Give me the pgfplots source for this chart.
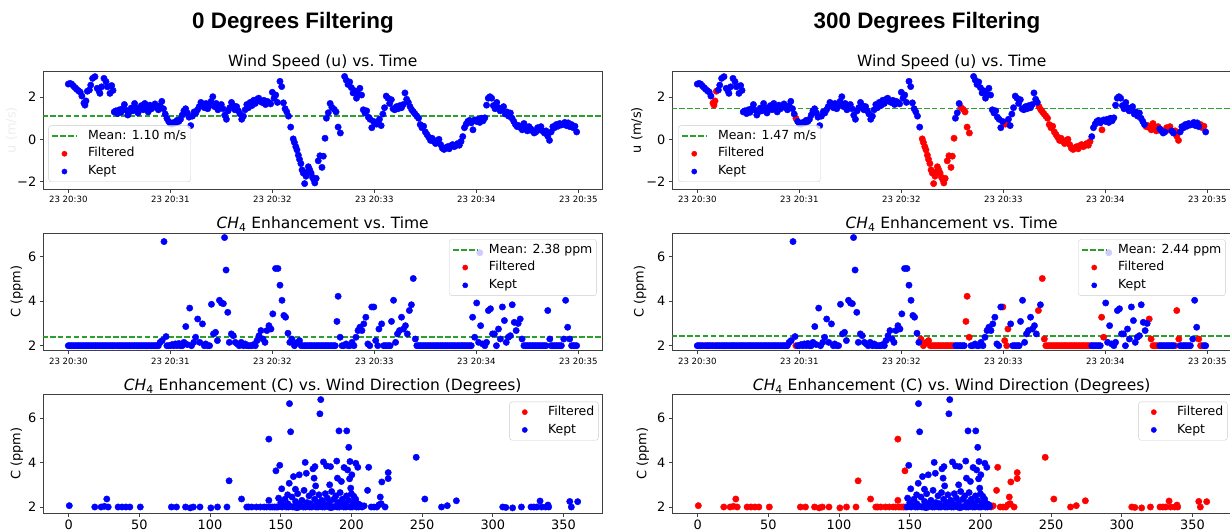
\documentclass[border=0pt]{standalone}
\usepackage{fontspec}
\setmainfont{DejaVu Sans}
\newfontfamily\supfont{Liberation Sans}
\usepackage{pgfplots}
\usepackage{pgfplotstable}
\pgfplotsset{compat=1.18}
\definecolor{meanc}{HTML}{2CA02C}

% wind speed u vs time (s after 20:30:00)
\pgfplotstableread[row sep=\\]{t v\\
0 2.62\\ 1 2.65\\ 2 2.62\\ 3 2.53\\ 4 2.45\\ 5 2.37\\ 6 2.30\\ 7 2.24\\ 8 2.05\\ 12.4 2.34\\ 13.2 2.57\\ 14.3 2.89\\ 15.7 2.97\\ 17 2.42\\ 18 2.30\\ 18.6 2.18\\ 19.6 2.49\\ 21 2.89\\ 22.2 2.73\\ 23 2.49\\ 24.5 2.18\\ 25.5 2.55\\ 26.3 2.32\\
27 1.30\\ 28 1.35\\ 29 1.22\\ 30 1.40\\ 31 1.28\\ 32 1.45\\ 33 1.65\\ 34 1.38\\ 35 1.15\\ 36 1.30\\ 37 1.48\\ 38 1.35\\ 39 1.70\\ 40 1.45\\ 41 1.25\\ 42 1.50\\ 43 1.60\\ 44 1.40\\ 45 1.70\\ 46 1.55\\ 47 1.30\\ 48 1.62\\ 49 1.45\\ 50 1.55\\ 51 1.68\\ 52 1.50\\ 53 1.40\\ 54 1.60\\ 55 1.80\\ 56 1.45\\ 57 1.20\\
59 0.85\\ 60 0.75\\ 61 0.72\\ 62 0.80\\ 63 0.78\\ 64 0.90\\ 65 0.85\\ 66 0.95\\ 67 1.15\\ 68 1.35\\ 69 1.45\\ 70 1.25\\ 71 1.05\\ 72 0.65\\ 73 1.10\\ 74 1.30\\ 75 1.25\\ 76 1.40\\ 77 1.55\\ 78 1.75\\ 79 1.60\\ 80 1.50\\ 81 1.70\\ 82 1.45\\ 83 1.60\\ 84 1.80\\ 85 2.02\\ 86 1.55\\ 87 1.70\\ 88 1.40\\ 89 1.50\\ 90 1.65\\ 91 1.45\\ 92 1.15\\ 93 0.95\\ 94 1.35\\ 95 1.50\\ 96 1.75\\ 97 1.60\\ 98 1.40\\ 99 1.55\\ 100 1.35\\
101 1.20\\ 102 0.95\\ 103 1.10\\ 104 1.40\\ 105 1.65\\ 106 1.50\\ 107 1.75\\ 108 1.60\\ 109 1.85\\ 110 1.70\\ 111 1.90\\ 112 1.95\\ 113 1.80\\ 114 1.75\\ 115 1.85\\ 116 1.65\\ 117 1.80\\ 118 1.75\\ 119 1.68\\ 120 2.23\\ 121 1.95\\ 122 2.10\\ 123 1.75\\ 124.5 2.75\\ 125.5 2.50\\ 126.5 1.73\\ 127.5 1.45\\ 128.5 1.30\\ 129.5 1.10\\ 130.8 0.58\\
151.8 1.00\\ 152.9 1.26\\ 154 1.70\\ 162.5 2.98\\ 163.5 2.80\\ 164.5 2.60\\ 165.5 2.72\\ 166.5 2.45\\ 167.5 2.20\\ 168.5 2.30\\ 169.5 1.95\\ 170.5 2.15\\ 171.5 2.42\\ 172.5 2.10\\ 173.5 1.40\\ 174.5 1.25\\ 175.5 1.35\\ 176.5 1.05\\ 177.5 0.95\\ 178.5 0.55\\ 179.5 0.85\\
183 0.95\\ 184 0.65\\ 185 1.20\\ 186 1.50\\ 187 2.05\\ 188 1.95\\ 189 1.70\\ 190 1.88\\ 191 1.45\\ 192 1.40\\ 193 1.55\\ 194 1.45\\ 195 1.60\\ 196 1.50\\ 197 1.65\\ 198 2.20\\ 199 1.90\\ 200 1.75\\
232 0.13\\ 233 0.55\\ 234 0.72\\ 235 0.85\\ 236 0.90\\ 237 0.78\\ 239 0.92\\ 240 0.85\\ 241 0.95\\ 242 0.80\\ 243 1.00\\ 244 0.88\\ 245 1.02\\ 246 1.62\\ 247 1.95\\ 248 2.02\\ 249 1.95\\ 250 1.60\\ 251 1.45\\ 252 1.75\\ 253 1.50\\ 254 1.35\\ 255 1.40\\ 256 1.55\\ 257 1.20\\ 258 1.30\\ 259 1.10\\ 260 1.25\\ 261 1.00\\ 262 0.85\\ 263 0.70\\
272 0.50\\ 273 0.40\\ 274 0.30\\ 275 0.35\\ 279 0.40\\ 280 0.30\\ 284 0.35\\ 285 0.60\\ 286 0.55\\ 287 0.70\\ 288 0.62\\ 289 0.75\\ 290 0.68\\ 291 0.72\\ 292 0.80\\ 293 0.65\\ 294 0.78\\ 295 0.60\\ 299 0.35\\
}\uKept
\pgfplotstableread[row sep=\\]{t v\\
9.2 1.72\\ 9.8 1.62\\ 10.4 1.82\\ 11.2 2.28\\ 58 1.00\\
132.3 0.02\\ 133 -0.15\\ 133.8 -0.35\\ 134.5 -0.50\\ 135.3 -0.75\\ 136 -0.95\\ 136.8 -1.15\\ 137.5 -1.45\\ 138.2 -1.60\\ 139 -2.10\\ 139.8 -1.75\\ 140.5 -1.55\\ 141.2 -1.30\\ 142 -1.45\\ 142.8 -1.60\\ 143.6 -1.80\\ 144.3 -1.90\\ 145 -2.07\\ 145.8 -1.85\\ 147 -1.02\\ 148 -0.78\\ 149.2 -1.33\\ 150 -0.80\\ 151 0.05\\
155 1.52\\ 156.4 1.42\\ 157.5 1.30\\ 158.7 0.58\\ 160 0.30\\ 180.5 0.78\\ 181.3 0.72\\ 182 0.80\\
201 1.55\\ 202 1.40\\ 203 1.30\\ 204 1.20\\ 205 1.10\\ 206 1.00\\ 207 0.70\\ 208 0.55\\ 209 0.62\\ 210 0.35\\ 211 0.22\\ 212 0.10\\ 213 -0.05\\ 214 0.05\\ 215 -0.10\\ 216 -0.20\\ 217 -0.05\\ 218 0.00\\ 219 -0.25\\ 220 -0.42\\ 221 -0.48\\ 222 -0.40\\ 223 -0.35\\ 224 -0.45\\ 225 -0.30\\ 226 -0.25\\ 227 -0.35\\ 228 -0.30\\ 229 -0.20\\ 230 -0.28\\ 231 -0.10\\
238 0.45\\ 264 0.60\\ 265 0.65\\ 266 0.55\\ 267 0.45\\ 268 0.75\\ 269 0.50\\ 270 0.40\\ 271 0.60\\ 276 0.55\\ 277 0.45\\ 278 0.60\\ 281 0.40\\ 282 0.15\\ 283 -0.05\\ 296 0.70\\ 297 0.55\\ 298 0.62\\
}\uFilt

% CH4 enhancement vs time
\pgfplotstableread[row sep=\\]{t v\\
0 2\\ 1 2\\ 2 2\\ 3 2\\ 5 2\\ 6 2\\ 7 2\\ 8 2\\ 9 2\\ 11 2\\ 12 2\\ 13 2\\ 14 2\\ 15 2\\ 16 2\\ 17 2\\ 18 2\\ 19 2\\ 20 2\\ 21 2\\ 22 2\\ 23 2\\ 24 2\\ 25 2\\ 26 2\\ 27 2\\ 28 2\\ 29 2\\ 30 2\\ 31 2\\ 32 2\\ 33 2\\ 34 2\\ 35 2\\ 36 2\\ 37 2\\ 38 2\\ 39 2\\ 40 2\\ 41 2\\ 42 2\\ 43 2\\ 44 2\\ 45 2\\ 46 2\\ 47 2\\ 48 2\\ 49 2\\ 50 2\\ 51 2\\ 52 2\\ 53 2\\
54 2.15\\ 55.2 2.23\\ 56.3 6.68\\ 57.5 2.41\\ 59 2\\ 60 2\\ 61 2.05\\ 62 2\\ 63 2.08\\ 64 2\\ 65 2.1\\ 66 2\\ 67 2\\ 68 2.15\\ 69.1 2.86\\ 70 2.05\\ 71.4 3.69\\ 72.5 2\\ 73.8 2.15\\ 74.9 2.38\\ 76.1 3.2\\ 77.3 2.15\\ 78.9 2.98\\ 80 2\\ 80.8 2.08\\ 82 2\\ 83.1 2\\ 84.2 3.86\\ 85.4 2.53\\ 86.6 2.6\\ 87.7 2.23\\ 88.9 4.04\\ 90.1 3.92\\ 91.2 3.89\\ 91.9 6.86\\ 92.8 5.4\\ 93.8 3.5\\ 94.7 2.15\\ 95.9 2.53\\ 97 2.45\\ 98.2 2.15\\ 99.4 2.08\\ 100.5 2\\
101.7 2.15\\ 103 2\\ 104 2.08\\ 105 2\\ 106 2\\ 107 2\\ 108 2\\ 109 2.05\\ 110 2\\ 111 2.23\\ 112.2 2.45\\ 113.3 2.68\\ 114.5 2.3\\ 115.7 2.15\\ 116.8 2.68\\ 118 2.9\\ 119.2 2.75\\ 120.3 3.43\\ 121.9 5.47\\ 123.3 5.47\\ 124.5 4.72\\ 125.7 4.04\\ 126.8 3.36\\ 127.8 3.28\\ 129.2 2.56\\ 130.3 2.15\\
152 2\\ 153 2\\ 154 2\\ 155 2\\ 156 2\\ 157 2\\ 161 2\\ 162 2\\ 163.4 2.08\\ 164.5 2\\ 165.5 2\\ 166.9 2.15\\ 168 2\\ 169.2 2.38\\ 170.4 2.68\\ 171.5 2.83\\ 172.7 2.68\\ 173.8 2.98\\ 175 3.28\\ 176.2 2.08\\ 177.3 2\\ 178.5 3.74\\
184.3 2.98\\ 185.5 2\\ 186.5 2\\ 187.5 2\\ 188.5 2\\ 189.3 2\\ 190.1 3.09\\ 191.3 4.04\\ 192.5 2.15\\ 193.6 2.53\\ 194.8 2.68\\ 196 3.28\\ 197.1 2.75\\ 198.3 2.9\\ 199.4 2.53\\ 201.8 3.84\\
232 2\\ 233 2\\ 234 2\\ 235 2\\ 236 2\\ 237 2\\ 240.2 3.92\\ 241.3 2.15\\ 242 6.18\\ 242.5 2.9\\ 243.7 2.08\\ 245 2\\ 246 2.15\\ 247.1 3.58\\ 248.3 3.66\\ 249.5 2.53\\ 250.6 2.53\\ 251.8 2\\ 253 2.75\\ 254.1 2.3\\ 255.3 3.74\\ 256.5 3.13\\ 257.6 2.15\\ 258.8 2.38\\ 260 2.45\\ 261.1 3.84\\ 262.3 3.05\\ 263.4 2.68\\ 264.6 3.0\\
272 2\\ 273 2\\ 274 2\\ 275 2\\ 276 2\\ 277 2\\ 278 2\\ 279 2\\ 280 2\\ 284 2\\ 285 2\\ 286 2\\ 287 2\\ 288 2\\ 289 2\\ 290 2\\ 291.4 2.3\\ 292.5 4.04\\ 293.7 2.83\\ 298 2\\ 299 2\\
}\cKept
\pgfplotstableread[row sep=\\]{t v\\
4 2\\ 10 2\\ 58 2\\ 131.5 2.3\\ 133 2\\ 134 2.1\\ 134.7 2.15\\ 136 2.23\\ 137 2\\ 138 2\\ 139 2\\ 140 2\\ 141 2\\ 142 2\\ 143 2\\ 144 2\\ 145 2\\ 146 2\\ 147 2\\ 148 2\\ 149 2\\ 150 2\\ 151 2\\
158 3.09\\ 158.7 4.22\\ 159.9 2.38\\ 179.7 3.74\\ 180.8 2.23\\ 182 2\\ 182.7 2.75\\ 200.6 3.58\\ 202.9 5.02\\ 204.1 2.3\\
205 2\\ 206 2\\ 207 2\\ 208 2\\ 209 2\\ 210 2\\ 211 2\\ 212 2\\ 213 2\\ 214 2\\ 215 2\\ 216 2\\ 217 2\\ 218 2\\ 219 2\\ 220 2\\ 221 2\\ 222 2\\ 223 2\\ 224 2\\ 225 2\\ 226 2\\ 227 2\\ 228 2\\ 229 2\\ 230 2\\ 231 2\\
237.8 3.28\\ 239 2.38\\ 265.8 3.2\\ 266.9 2.3\\ 268 2\\ 269 2\\ 270 2\\ 271 2\\ 281 2\\ 282 3.58\\ 283.2 2.3\\ 294.9 2.3\\ 296 2\\ 297 2\\
}\cFilt

% CH4 enhancement vs wind direction (degrees)
\pgfplotstableread[row sep=\\]{d v\\
148 2.0\\ 149.5 2.02\\ 151 2.0\\ 152.5 2.05\\ 154 2.0\\ 155.5 2.0\\ 157 2.03\\ 158.5 2.0\\ 160 2.0\\ 161.5 1.97\\ 163 2.0\\ 164.5 2.05\\ 166 2.0\\ 167.5 2.0\\ 169 2.02\\ 170.5 2.0\\ 172 2.0\\ 173.5 2.05\\ 175 2.0\\ 176.5 2.0\\ 178 2.03\\ 179.5 2.0\\ 181 2.0\\ 182.5 2.05\\ 184 2.0\\ 185.5 1.97\\ 187 2.0\\ 188.5 2.03\\ 190 2.0\\ 191.5 2.0\\ 193 2.05\\ 194.5 2.0\\ 196 2.0\\ 197.5 2.02\\ 199 2.0\\ 200.5 2.0\\ 202 2.05\\ 203.5 2.0\\ 205 2.0\\ 206.5 2.02\\
150 2.2\\ 153 2.35\\ 155 2.15\\ 158 2.45\\ 160.5 2.25\\ 162 2.6\\ 163.5 2.15\\ 165 2.3\\ 166.5 2.75\\ 168.5 2.2\\ 170 2.5\\ 171 2.15\\ 172.5 2.65\\ 174 2.35\\ 176 2.2\\ 177 2.55\\ 179 2.3\\ 180.5 2.15\\ 181.5 2.6\\ 183 2.4\\ 184.5 2.2\\ 186 2.7\\ 187.5 2.35\\ 189 2.5\\ 190.5 2.2\\ 192 2.65\\ 193.5 2.35\\ 195 2.15\\ 196.5 2.5\\ 198 2.3\\ 200 2.6\\ 201 2.2\\ 203 2.35\\ 204.5 2.15\\
148.5 2.4\\ 149.3 3.88\\ 150.7 2.82\\ 154.9 2.55\\ 156 3.07\\ 156.2 6.66\\ 157 5.39\\ 159 3.37\\ 160.4 2.8\\ 163.1 3.45\\ 167.3 4.01\\ 168.1 3.52\\ 172.8 3.72\\ 173.6 3.3\\ 174.2 3.82\\ 174.7 2.95\\ 177.7 6.2\\ 178.3 6.84\\ 180.2 4.03\\ 182.4 3.85\\ 184.6 3.0\\ 185.2 3.82\\ 189.6 4.07\\ 190.1 3.3\\ 191.2 5.43\\ 192.9 3.15\\ 194.8 3.78\\ 196.7 5.43\\ 197.3 3.67\\ 198.1 4.69\\ 198.7 3.27\\ 199 4.05\\ 199.5 2.85\\ 200.3 3.45\\ 201.7 2.48\\ 203.1 3.97\\ 204.5 3.79\\ 206 2.1\\
}\dKept
\pgfplotstableread[row sep=\\]{d v\\
0.5 2.06\\ 18.5 2\\ 23 2\\ 25.3 2.03\\ 27 2.36\\ 28 2\\ 35 2\\ 37.8 2\\ 40.5 2\\ 43.3 2\\ 50.7 2\\ 72.7 2\\ 76.3 2\\ 82.7 2\\ 86 1.96\\ 88.2 2\\ 92.9 2\\ 100.6 1.96\\ 105.3 2\\ 112 2\\ 113.5 3.18\\ 122.3 2.36\\ 126 2\\ 127.3 2\\ 129.5 2\\ 132.8 2\\ 135.6 2\\ 138.3 2\\ 140 2\\ 141.6 2.3\\ 141.6 5.06\\ 142.5 2\\ 144 2\\ 145.5 2\\ 146.6 3.63\\ 146.8 2\\
207.5 2\\ 209 2.05\\ 211.4 2.75\\ 212.2 3.79\\ 214 2\\ 216 2\\ 218 2\\ 219.5 2.1\\ 220.4 2.45\\ 221 2.15\\ 221.5 3.13\\ 223.8 2\\ 226 3.28\\ 226 3.55\\ 245.8 4.24\\ 251.9 2.36\\ 263.7 2\\ 267.8 2.06\\ 274.2 2.28\\ 307 2\\ 309.2 1.98\\ 314 1.96\\ 320.2 2\\ 327 2\\ 329 2\\ 331 2\\ 333.4 2.27\\ 334.5 2\\ 337.3 2\\ 339 2.09\\ 339.5 2\\ 354.4 2.25\\ 355.5 2\\ 360 2.24\\
}\dFilt

\pgfplotsset{
  panel/.style={
    scale only axis, width=558.7pt,
    axis line style={draw=black!75, line width=0.9pt},
    every tick/.style={draw=black!75, line width=0.8pt},
    tick align=outside, major tick length=3.5pt, tick pos=left,
    /pgf/number format/assume math mode=true,
    tick label style={font=\fontsize{12.9}{14}\selectfont},
    title style={font=\fontsize{15.5}{18}\selectfont, at={(0.5,1)}, anchor=base, yshift=-2pt},
    label style={font=\fontsize{12.9}{14}\selectfont},
    legend cell align=left,
    legend style={font=\fontsize{12.5}{14}\selectfont, draw=black!20, rounded corners=2.5pt,
      fill=white, fill opacity=0.8, draw opacity=1, text opacity=1,
      inner xsep=3pt, inner ysep=3pt, row sep=3.3pt,
      nodes={inner sep=1pt, text height=9.5pt, text depth=3pt},
      /tikz/every odd column/.append style={column sep=10pt}},
  },
  timeax/.style={xmin=-14.7, xmax=313.9, xtick={0,60,...,300},
    xticklabels={23 20:30,23 20:31,23 20:32,23 20:33,23 20:34,23 20:35},
    x tick label style={font=\fontsize{8.6}{10}\selectfont}},
  dirax/.style={xmin=-17.9, xmax=377.2, xtick={0,50,...,350}},
  upanel/.style={height=118.3pt, ymin=-2.37, ymax=3.24, ytick={-2,0,2}, yticklabels={−2,0,2},
    title={Wind Speed (u) vs.\ Time}, ylabel={u (m/s)}},
  cpanel/.style={height=117.7pt, ymin=1.775, ymax=7.065, ytick={2,4,6},
    title={\textit{CH}\textsubscript{4} Enhancement vs.\ Time}, ylabel={C (ppm)},
    legend style={at={(1,1)}, anchor=north east, xshift=-5.4pt, yshift=-6.3pt}},
  dpanel/.style={height=119pt, ymin=1.716, ymax=7.08, ytick={2,4,6},
    title={\textit{CH}\textsubscript{4} Enhancement (C) vs.\ Wind Direction (Degrees)}, ylabel={C (ppm)},
    legend style={at={(1,1)}, anchor=north east, xshift=-3.5pt, yshift=-7.4pt}},
  ylab/.style={ylabel style={at={(axis description cs:#1,0.5)}, anchor=center}},
  meanline/.style={meanc, line width=1.5pt, dash pattern=on 5.5pt off 2.4pt, forget plot},
  kdots/.style={only marks, mark=*, mark size=3.2pt, blue, forget plot},
  fdots/.style={only marks, mark=*, mark size=3.2pt, red, forget plot},
  legline/.style={legend image code/.code={\draw[meanc, draw opacity=1, line width=1.5pt, dash pattern=on 5.5pt off 2.4pt] (0pt,0pt) -- (24pt,0pt);}},
  legred/.style={legend image code/.code={\path (0pt,0pt) (24pt,0pt); \fill[red, fill opacity=1] (12pt,0pt) circle (2.6pt);}},
  legblue/.style={legend image code/.code={\path (0pt,0pt) (24pt,0pt); \fill[blue, fill opacity=1] (12pt,0pt) circle (2.6pt);}},
}

\begin{document}
\begin{tikzpicture}
\path[use as bounding box] (0pt,0pt) rectangle (1230pt,532pt);
\node[font=\supfont\bfseries\fontsize{22.4}{26}\selectfont, anchor=base] at (293pt,503pt) {0 Degrees Filtering};
\node[font=\supfont\bfseries\fontsize{22.4}{26}\selectfont, anchor=base] at (927pt,503pt) {300 Degrees Filtering};

% ---------- left column: 0 degrees ----------
\begin{axis}[panel, timeax, upanel, ylab=-0.0566, ylabel style={text=black!7},
  at={(43.3pt,342.7pt)}, anchor=south west,
  legend style={at={(0,0)}, anchor=south west, xshift=5.2pt, yshift=7.3pt}]
\addlegendimage{legline}\addlegendentry{Mean: 1.10 m/s}
\addlegendimage{legred}\addlegendentry{Filtered}
\addlegendimage{legblue}\addlegendentry{Kept}
\addplot[kdots] table[x=t,y=v] {\uFilt};
\addplot[kdots] table[x=t,y=v] {\uKept};
\addplot[meanline] coordinates {(-20,1.10) (320,1.10)};
\end{axis}

\begin{axis}[panel, timeax, cpanel, ylab=-0.0476, at={(43.3pt,181.3pt)}, anchor=south west]
\addlegendimage{legline}\addlegendentry{Mean: 2.38 ppm}
\addlegendimage{legred}\addlegendentry{Filtered}
\addlegendimage{legblue}\addlegendentry{Kept}
\addplot[kdots] table[x=t,y=v] {\cFilt};
\addplot[kdots] table[x=t,y=v] {\cKept};
\addplot[meanline] coordinates {(-20,2.38) (320,2.38)};
\end{axis}

\begin{axis}[panel, dirax, dpanel, ylab=-0.0476, at={(43.3pt,18.7pt)}, anchor=south west]
\addlegendimage{legred}\addlegendentry{Filtered}
\addlegendimage{legblue}\addlegendentry{Kept}
\addplot[kdots] table[x=d,y=v] {\dFilt};
\addplot[kdots] table[x=d,y=v] {\dKept};
\end{axis}

% ---------- right column: 300 degrees ----------
\begin{axis}[panel, timeax, upanel, ylab=-0.0637, at={(672.3pt,342.7pt)}, anchor=south west,
  legend style={at={(0,0)}, anchor=south west, xshift=6pt, yshift=7.3pt}]
\addlegendimage{legline}\addlegendentry{Mean: 1.47 m/s}
\addlegendimage{legred}\addlegendentry{Filtered}
\addlegendimage{legblue}\addlegendentry{Kept}
\addplot[fdots] table[x=t,y=v] {\uFilt};
\addplot[kdots] table[x=t,y=v] {\uKept};
\addplot[meanline] coordinates {(-20,1.47) (320,1.47)};
\end{axis}

\begin{axis}[panel, timeax, cpanel, ylab=-0.0578, at={(672.3pt,181.3pt)}, anchor=south west]
\addlegendimage{legline}\addlegendentry{Mean: 2.44 ppm}
\addlegendimage{legred}\addlegendentry{Filtered}
\addlegendimage{legblue}\addlegendentry{Kept}
\addplot[fdots] table[x=t,y=v] {\cFilt};
\addplot[kdots] table[x=t,y=v] {\cKept};
\addplot[meanline] coordinates {(-20,2.44) (320,2.44)};
\end{axis}

\begin{axis}[panel, dirax, dpanel, ylab=-0.053, at={(672.3pt,18.7pt)}, anchor=south west]
\addlegendimage{legred}\addlegendentry{Filtered}
\addlegendimage{legblue}\addlegendentry{Kept}
\addplot[fdots] table[x=d,y=v] {\dFilt};
\addplot[kdots] table[x=d,y=v] {\dKept};
\end{axis}
\end{tikzpicture}
\end{document}
